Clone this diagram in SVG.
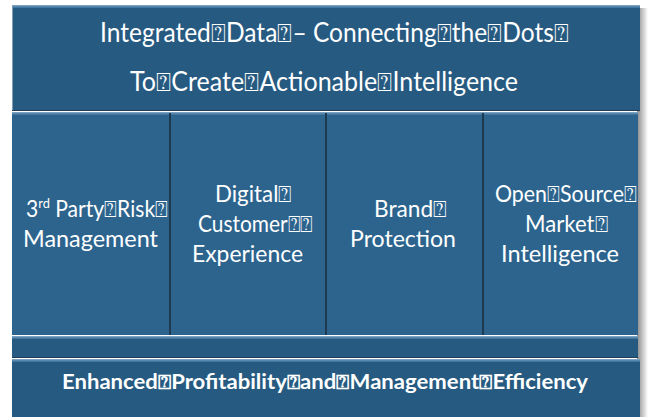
<svg xmlns="http://www.w3.org/2000/svg" width="649" height="417" viewBox="0 0 649 417">
<defs>
<linearGradient id="shadowR" x1="0" y1="0" x2="1" y2="0">
<stop offset="0" stop-color="#8a8a8a"/>
<stop offset="1" stop-color="#ffffff"/>
</linearGradient>
<linearGradient id="bevel" x1="0" y1="0" x2="0" y2="1">
<stop offset="0" stop-color="#8fb0ca"/>
<stop offset="0.4" stop-color="#5d8cb2"/>
<stop offset="1" stop-color="#3a6f98"/>
</linearGradient>
</defs>
<style>
.dark{fill:#265a80}
.mid{fill:#2c648e}
.sep{stroke:#1d3a50;stroke-width:2}
.t{font-family:Lato,"Open Sans","DejaVu Sans",sans-serif;fill:#ffffff;text-anchor:start}
.tt{font-size:26px}
.tm{font-size:23px}
.tb{font-size:20px;font-weight:bold}
</style>
<rect x="637" y="8" width="11" height="409" fill="url(#shadowR)"/>
<g id="top">
<rect class="dark" x="12" y="5" width="628" height="106"/>
<rect x="12" y="5" width="628" height="3" fill="url(#bevel)"/>
<line x1="12.5" y1="5" x2="12.5" y2="111" stroke="#7f9db4" stroke-width="1"/>
<line x1="12" y1="110.5" x2="640" y2="110.5" stroke="#1d3d57" stroke-width="1"/>
<text class="t tt" x="100" y="42" textLength="469" lengthAdjust="spacingAndGlyphs">Integrated⍰Data⍰– Connecting⍰the⍰Dots⍰</text>
<text class="t tt" x="130" y="91" textLength="388" lengthAdjust="spacingAndGlyphs">To⍰Create⍰Actionable⍰Intelligence</text>
</g>
<g id="box1">
<rect class="mid" x="12" y="112" width="158" height="223"/>
<rect x="12" y="112" width="158" height="3" fill="url(#bevel)"/>
<text class="t tm" x="26" y="217" textLength="142" lengthAdjust="spacingAndGlyphs">3<tspan font-size="14" dy="-9">rd</tspan><tspan dy="9"> Party⍰Risk⍰</tspan></text>
<text class="t tm" x="23" y="247" textLength="135" lengthAdjust="spacingAndGlyphs">Management</text>
</g>
<g id="box2">
<rect class="mid" x="170" y="112" width="156" height="223"/>
<rect x="170" y="112" width="156" height="3" fill="url(#bevel)"/>
<text class="t tm" x="215" y="202" textLength="77" lengthAdjust="spacingAndGlyphs">Digital⍰</text>
<text class="t tm" x="198" y="232" textLength="115" lengthAdjust="spacingAndGlyphs">Customer⍰⍰</text>
<text class="t tm" x="192" y="262" textLength="111" lengthAdjust="spacingAndGlyphs">Experience</text>
</g>
<g id="box3">
<rect class="mid" x="326" y="112" width="157" height="223"/>
<rect x="326" y="112" width="157" height="3" fill="url(#bevel)"/>
<text class="t tm" x="374" y="217" textLength="73" lengthAdjust="spacingAndGlyphs">Brand⍰</text>
<text class="t tm" x="350" y="247" textLength="106" lengthAdjust="spacingAndGlyphs">Protection</text>
</g>
<g id="box4">
<rect class="mid" x="483" y="112" width="155" height="223"/>
<rect x="483" y="112" width="155" height="3" fill="url(#bevel)"/>
<text class="t tm" x="495" y="202" textLength="142" lengthAdjust="spacingAndGlyphs">Open⍰Source⍰</text>
<text class="t tm" x="525" y="232" textLength="83" lengthAdjust="spacingAndGlyphs">Market⍰</text>
<text class="t tm" x="501" y="262" textLength="118" lengthAdjust="spacingAndGlyphs">Intelligence</text>
</g>
<g id="connectors">
<line class="sep" x1="170" y1="113" x2="170" y2="335"/>
<line class="sep" x1="326" y1="113" x2="326" y2="335"/>
<line class="sep" x1="483" y1="113" x2="483" y2="335"/>
</g>
<g id="band">
<rect class="dark" x="12" y="336" width="626" height="22"/>
<rect x="12" y="336" width="626" height="3" fill="url(#bevel)"/>
<line x1="12" y1="357.5" x2="638" y2="357.5" stroke="#1d3d57" stroke-width="1"/>
</g>
<g id="bottom">
<rect class="dark" x="12" y="359" width="628" height="58"/>
<rect x="12" y="359" width="628" height="3" fill="url(#bevel)"/>
<text class="t tb" x="62" y="389" textLength="526" lengthAdjust="spacingAndGlyphs">Enhanced⍰Profitability⍰and⍰Management⍰Efficiency</text>
</g>
</svg>
